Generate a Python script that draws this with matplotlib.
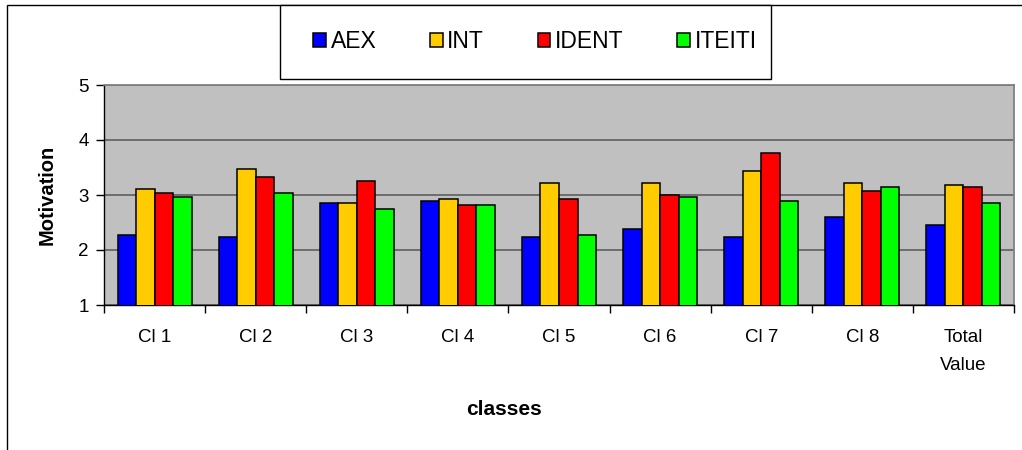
import numpy as np
import matplotlib
matplotlib.use('Agg')
import matplotlib.pyplot as plt
from matplotlib.patches import Rectangle
from matplotlib.ticker import FixedLocator

plt.rcParams['font.family'] = ['Liberation Sans', 'DejaVu Sans']

# %% data
classes = ['Cl 1', 'Cl 2', 'Cl 3', 'Cl 4', 'Cl 5', 'Cl 6', 'Cl 7', 'Cl 8', 'Total\nValue']
aex = [2.27, 2.24, 2.85, 2.89, 2.24, 2.38, 2.24, 2.60, 2.45]
int_ = [3.11, 3.47, 2.85, 2.93, 3.22, 3.22, 3.44, 3.22, 3.18]
ident = [3.03, 3.33, 3.25, 2.82, 2.93, 3.00, 3.76, 3.07, 3.15]
iteiti = [2.96, 3.03, 2.75, 2.82, 2.27, 2.96, 2.89, 3.15, 2.85]

series = [('AEX', aex, '#0000FF'), ('INT', int_, '#FFCC00'),
          ('IDENT', ident, '#FF0000'), ('ITEITI', iteiti, '#00FF00')]

W, H = 1022, 450
fig = plt.figure(figsize=(W / 100, H / 100), dpi=100)
ax = fig.add_axes([104 / W, 1 - 305 / H, 910 / W, 220 / H])
ax.set_facecolor('#C0C0C0')

x = np.arange(len(classes))
w = 0.183
for k, (name, vals, col) in enumerate(series):
    ax.bar(x + (k - 1.5) * w, vals, w, color=col, edgecolor='black',
           linewidth=1.1, label=name, zorder=3)

ax.set_xlim(-0.5, len(classes) - 0.5)
ax.set_ylim(1, 5)
ax.set_yticks([1, 2, 3, 4, 5])
ax.yaxis.grid(True, color='#666666', linewidth=1.3, zorder=1)
ax.set_axisbelow(True)

# category labels at centres, tick marks at the boundaries
ax.set_xticks(x)
ax.set_xticklabels(classes, fontsize=13.5)
ax.tick_params(axis='x', which='major', length=0, pad=17)
ax.xaxis.set_minor_locator(FixedLocator(np.arange(-0.5, len(classes), 1.0)))
ax.tick_params(axis='x', which='minor', length=6, width=1, color='black')
ax.tick_params(axis='y', length=6, width=1, pad=5, labelsize=13.5)
ax.get_xticklabels()[-1].set_linespacing(1.9)

for s in ['top', 'right']:
    ax.spines[s].set_color('#808080')
    ax.spines[s].set_linewidth(1.3)
for s in ['left', 'bottom']:
    ax.spines[s].set_color('black')
    ax.spines[s].set_linewidth(1.0)

ax.set_ylabel('Motivation', fontsize=14.5, fontweight='bold')
ax.yaxis.set_label_coords((47 - 104) / 910, (305 - 195) / 220)
ax.yaxis.label.set_va('center')
ax.set_xlabel('classes', fontsize=15, fontweight='bold')
ax.xaxis.set_label_coords((504 - 104) / 910, (305 - 409) / 220)
ax.xaxis.label.set_va('center')

# outer chart frame (only the top and left edges are visible)
fig.add_artist(Rectangle((7 / W, -0.2), 1.2, 1.2 - 5 / H, transform=fig.transFigure,
                         fill=False, edgecolor='black', linewidth=1.0))
# legend box
fig.add_artist(Rectangle((280 / W, 1 - 79 / H), 491 / W, 74 / H, transform=fig.transFigure,
                         facecolor='white', edgecolor='black', linewidth=1.0))
fig.legend(loc='center', bbox_to_anchor=(535 / W, 1 - 42 / H), ncol=4, frameon=False,
           fontsize=16.5, handlelength=0.55, handleheight=0.55, handletextpad=0.2,
           columnspacing=2.35)

fig.savefig('out.png', dpi=100)
